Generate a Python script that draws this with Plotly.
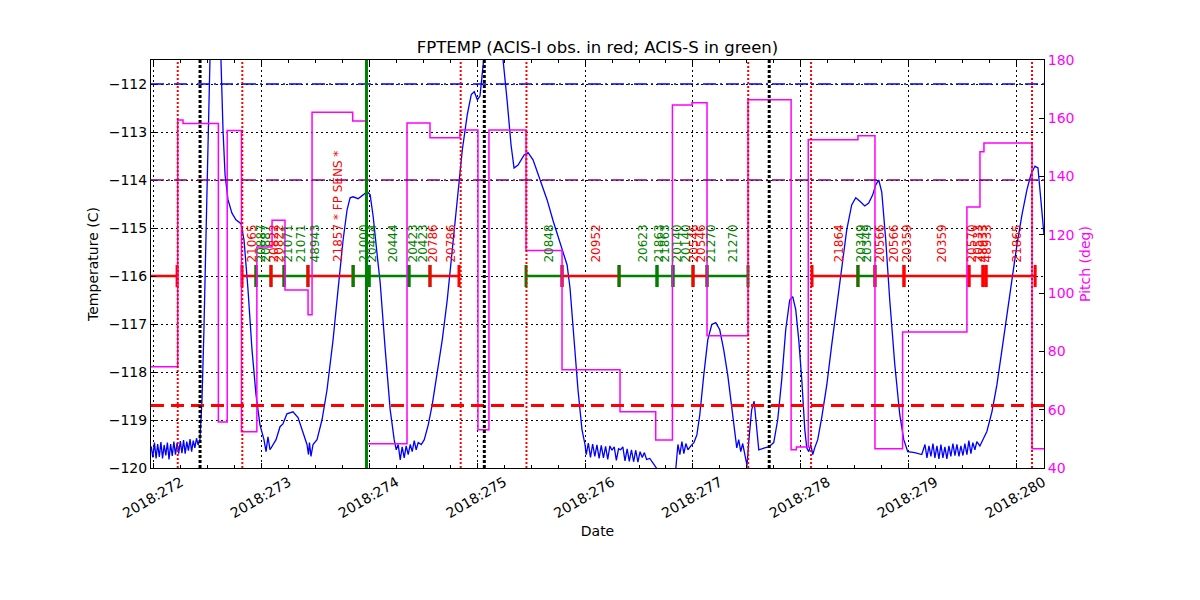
import plotly.graph_objects as go

# ---------------- data (times in fractional day-of-year 2018) ----------------
temp_time = [
    271.975, 271.990, 272.005, 272.020, 272.035, 272.050, 272.065, 272.080, 272.095, 272.110,
    272.125, 272.140, 272.155, 272.170, 272.185, 272.200, 272.215, 272.230, 272.245, 272.260,
    272.275, 272.290, 272.305, 272.320, 272.335, 272.350, 272.365, 272.380, 272.395, 272.410,
    272.427, 272.446, 272.464, 272.483, 272.501, 272.520, 272.567, 272.613, 272.622, 272.641,
    272.660, 272.687, 272.724, 272.761, 272.808, 272.836, 272.873, 272.910, 272.947, 272.984,
    273.021, 273.040, 273.058, 273.077, 273.095, 273.133, 273.170, 273.197, 273.234, 273.290,
    273.337, 273.383, 273.420, 273.434, 273.443, 273.457, 273.476, 273.513, 273.560, 273.606,
    273.662, 273.708, 273.755, 273.792, 273.820, 273.848, 273.894, 273.941, 273.978, 274.006,
    274.034, 274.071, 274.099, 274.146, 274.192, 274.229, 274.248, 274.266, 274.285, 274.303,
    274.322, 274.340, 274.359, 274.378, 274.396, 274.415, 274.433, 274.452, 274.480, 274.508,
    274.545, 274.582, 274.628, 274.675, 274.721, 274.768, 274.814, 274.861, 274.907, 274.944,
    274.972, 275.000, 275.025, 275.053, 275.090, 275.183, 275.239, 275.276, 275.313, 275.341,
    275.378, 275.434, 275.471, 275.517, 275.582, 275.647, 275.703, 275.777, 275.833, 275.860,
    275.897, 275.934, 275.971, 275.999,
    276.01, 276.03, 276.05, 276.07, 276.09, 276.11, 276.13, 276.15, 276.17, 276.19,
    276.21, 276.23, 276.25, 276.27, 276.29, 276.31, 276.33, 276.35, 276.37, 276.39,
    276.41, 276.43, 276.45, 276.47, 276.49, 276.51, 276.53, 276.55, 276.57,
    276.60, 276.64, 276.68, 276.72, 276.78, 276.84,
    276.861, 276.879, 276.898, 276.916, 276.935, 276.954, 276.981, 277.009, 277.037, 277.064,
    277.101, 277.138, 277.175, 277.212, 277.249, 277.286, 277.323, 277.360, 277.388, 277.407,
    277.425, 277.444, 277.462, 277.481, 277.502, 277.518, 277.545, 277.568, 277.592, 277.611,
    277.666, 277.703, 277.750, 277.787, 277.824, 277.861, 277.898, 277.926, 277.954, 277.982,
    278.010, 278.038, 278.056, 278.075, 278.093, 278.112, 278.130, 278.158, 278.195, 278.242,
    278.288, 278.334, 278.381, 278.427, 278.473, 278.511, 278.557, 278.594, 278.631, 278.668,
    278.696, 278.724, 278.752, 278.789, 278.826, 278.873, 278.919, 278.956, 278.993, 279.058,
    279.123,
    279.153, 279.171, 279.190, 279.208, 279.227, 279.245, 279.264, 279.282, 279.301, 279.319,
    279.338, 279.356, 279.375, 279.393, 279.412, 279.431, 279.449, 279.468, 279.486, 279.505,
    279.523, 279.542, 279.560, 279.579, 279.597, 279.616, 279.634,
    279.662, 279.690, 279.727, 279.774, 279.820, 279.867, 279.913, 279.959, 280.006, 280.052,
    280.098, 280.135, 280.173, 280.201, 280.229, 280.257,
]
temp_value = [
    -119.55, -119.78, -119.47, -119.80, -119.50, -119.77, -119.46, -119.80, -119.52, -119.74,
    -119.47, -119.82, -119.50, -119.75, -119.45, -119.72, -119.48, -119.70, -119.44, -119.69,
    -119.42, -119.70, -119.45, -119.64, -119.40, -119.66, -119.43, -119.58, -119.38, -119.52,
    -119.41, -118.58, -117.12, -115.45, -113.37, -111.50, -110.40, -111.20, -111.50, -112.96,
    -113.89, -114.41, -114.69, -114.83, -114.91, -115.25, -116.29, -117.54, -118.47, -119.10,
    -119.41, -119.66, -119.35, -119.62, -119.56, -119.41, -119.14, -119.08, -118.87, -118.83,
    -118.95, -119.24, -119.51, -119.72, -119.47, -119.76, -119.51, -119.41, -118.99, -118.37,
    -117.33, -116.29, -115.25, -114.62, -114.37, -114.35, -114.39, -114.31, -114.24, -114.31,
    -114.76, -115.56, -116.14, -117.54, -118.79, -119.41, -119.62, -119.51, -119.83, -119.56,
    -119.79, -119.54, -119.72, -119.51, -119.66, -119.43, -119.62, -119.47, -119.51, -119.41,
    -119.10, -118.68, -118.06, -117.33, -116.50, -115.46, -114.41, -113.37, -112.64, -112.22,
    -112.16, -112.33, -112.25, -111.50, -110.80, -110.80, -111.50, -112.33, -113.27, -113.75,
    -113.69, -113.48, -113.43, -113.58, -114.00, -114.41, -114.85, -115.35, -115.77, -116.25,
    -117.33, -118.37, -119.20, -119.51,
    -119.72, -119.48, -119.78, -119.50, -119.76, -119.52, -119.80, -119.53, -119.79, -119.55,
    -119.82, -119.54, -119.63, -119.56, -119.84, -119.60, -119.62, -119.56, -119.85, -119.60,
    -119.86, -119.62, -119.87, -119.63, -119.88, -119.66, -119.78, -119.68, -119.82,
    -119.80, -119.93, -120.05, -120.20, -120.50, -120.05,
    -119.51, -119.72, -119.45, -119.70, -119.49, -119.62, -119.54, -119.47, -119.31, -118.89,
    -118.06, -117.33, -117.01, -116.97, -117.12, -117.54, -118.06, -118.79, -119.31, -119.58,
    -119.41, -119.66, -119.49, -119.72, -119.95, -119.45, -118.79, -118.61, -119.20, -119.62,
    -119.58, -119.56, -119.47, -118.99, -118.16, -117.12, -116.50, -116.43, -116.70, -117.33,
    -118.16, -119.20, -119.58, -119.66, -119.51, -119.72, -119.58, -119.41, -118.95, -118.27,
    -117.43, -116.60, -115.77, -115.04, -114.52, -114.37, -114.46, -114.54, -114.48, -114.31,
    -114.10, -114.00, -114.25, -115.25, -116.50, -117.85, -118.89, -119.41, -119.66, -119.68,
    -119.72,
    -119.51, -119.79, -119.54, -119.76, -119.49, -119.79, -119.54, -119.81, -119.51, -119.79,
    -119.56, -119.81, -119.54, -119.76, -119.49, -119.74, -119.51, -119.76, -119.54, -119.74,
    -119.49, -119.72, -119.43, -119.70, -119.47, -119.62, -119.45,
    -119.54, -119.41, -119.24, -118.83, -118.27, -117.54, -116.81, -116.08, -115.35, -114.73,
    -114.21, -113.89, -113.71, -113.75, -114.41, -115.14,
]

pitch_time = [271.95, 272.221, 272.270, 272.598, 272.680, 272.812, 272.955, 273.096, 273.216,
              273.430, 273.467, 273.844, 273.972, 274.348, 274.561, 274.839, 275.006, 275.108,
              275.452, 275.786, 276.324, 276.655, 276.810, 276.992, 277.131, 277.511, 277.911,
              277.960, 278.070, 278.531, 278.689, 278.945, 279.542, 279.663, 279.700, 280.146,
              280.30]
pitch_value = [74.7, 159.4, 158.2, 55.8, 155.8, 52.4, 115.8, 125.0, 101.1,
               92.6, 162.1, 159.1, 48.3, 158.4, 153.3, 156.0, 53.1, 156.0,
               114.6, 73.7, 59.3, 49.6, 164.6, 165.3, 85.4, 166.4, 46.3,
               47.2, 152.6, 154.0, 46.6, 86.7, 129.6, 148.5, 151.5, 46.6,
               46.6]

obs_start = [271.90, 272.817, 272.947, 273.086, 273.207, 273.429, 273.848, 273.996, 274.366,
             274.561, 275.452, 275.786, 276.315, 276.667, 276.815, 277.001, 277.131, 278.105,
             278.531, 278.689, 278.958, 279.561, 279.691, 279.719]
obs_stop = [272.215, 272.947, 273.086, 273.207, 273.429, 273.848, 273.996, 274.366, 274.561,
            274.830, 275.786, 276.315, 276.667, 276.815, 277.001, 277.131, 277.511, 278.531,
            278.689, 278.958, 279.561, 279.691, 279.719, 280.175]
obs_inst = ['I', 'I', 'S', 'I', 'S', 'I', 'S', 'S', 'S',
            'I', 'S', 'I', 'S', 'S', 'S', 'I', 'S', 'I',
            'S', 'I', 'I', 'I', 'I', 'I']

label_time = [272.910, 272.993, 273.031, 273.114, 273.160, 273.244, 273.364, 273.494, 273.708,
              273.940, 274.014, 274.218, 274.403, 274.496, 274.589, 274.747, 275.656, 276.101,
              276.528, 276.685, 276.741, 276.852, 276.936, 277.010, 277.075, 277.168, 277.372,
              278.355, 278.559, 278.615, 278.735, 278.865, 278.986, 279.310, 279.580, 279.644,
              279.691, 279.728, 280.006]
label_text = ['21065', '20887', '20887', '20822', '20822', '21071', '21071', '48943',
              '21857 * FP SENS *',
              '21000', '20444', '20444', '20423', '20423', '20786', '20786', '20848', '20952',
              '20623', '21863', '21863', '20140', '20140', '20546', '20546', '21270', '21270',
              '21864', '20349', '20349', '20566', '20566', '20359', '20359', '20570', '20533',
              '48933', '48933', '21865']
label_inst = ['I', 'S', 'S', 'I', 'I', 'S', 'S', 'S', 'I',
              'S', 'S', 'S', 'S', 'S', 'I', 'I', 'S', 'I',
              'S', 'S', 'S', 'S', 'S', 'I', 'I', 'S', 'S',
              'I', 'S', 'S', 'I', 'I', 'I', 'I', 'I', 'I',
              'I', 'I', 'I']

radzone_times = [272.221, 272.820, 274.846, 275.456, 277.513, 278.096, 280.146]
perigee_times = [272.428, 275.065, 277.708]
now_time = 273.972

planning_limit = -112.0
acis_s_limit = -114.0
acis_i_limit = -118.7
obs_level = -116.0

day_ticks = [272, 273, 274, 275, 276, 277, 278, 279, 280]
day_labels = ['2018:272', '2018:273', '2018:274', '2018:275', '2018:276',
              '2018:277', '2018:278', '2018:279', '2018:280']

# ---------------- styling ----------------
FONT = 'DejaVu Sans'
RED = '#ff0000'
GREEN = '#008000'
inst_color = {'I': RED, 'S': GREEN}
tick_half = 0.23
label_offset = 0.26

fig = go.Figure()

# temperature model
fig.add_trace(go.Scatter(x=temp_time, y=temp_value, mode='lines',
                         line=dict(color='#0000ff', width=1.3), yaxis='y', hoverinfo='skip'))

# observation bars
for inst in ['I', 'S']:
    xs, ys = [], []
    for s, e, i in zip(obs_start, obs_stop, obs_inst):
        if i == inst:
            xs += [s, e, None]
            ys += [obs_level, obs_level, None]
    fig.add_trace(go.Scatter(x=xs, y=ys, mode='lines',
                             line=dict(color=inst_color[inst], width=2.5), yaxis='y'))

# tick marks at obs ends (first) and starts (on top)
for which in ['stop', 'start']:
    for inst in ['I', 'S']:
        xs, ys = [], []
        src = obs_stop if which == 'stop' else obs_start
        for t, i in zip(src, obs_inst):
            if i == inst:
                xs += [t, t, None]
                ys += [obs_level - tick_half, obs_level + tick_half, None]
        fig.add_trace(go.Scatter(x=xs, y=ys, mode='lines',
                                 line=dict(color=inst_color[inst], width=3), yaxis='y'))

# pitch
fig.add_trace(go.Scatter(x=pitch_time, y=pitch_value, mode='lines',
                         line=dict(color='#ff00ff', width=1.5, shape='hv'), yaxis='y2'))

shapes = []
for yv, col, dash, w in [(planning_limit, '#0000ff', '13px,4px,2px,4px', 1.5),
                         (acis_s_limit, '#800080', '13px,4px,2px,4px', 1.5),
                         (acis_i_limit, RED, '13px,7px', 3)]:
    shapes.append(dict(type='line', xref='paper', x0=0, x1=1, yref='y', y0=yv, y1=yv,
                       line=dict(color=col, width=w, dash=dash)))
for t in radzone_times:
    shapes.append(dict(type='line', xref='x', x0=t, x1=t, yref='paper', y0=0, y1=1,
                       line=dict(color=RED, width=2, dash='2px,2px')))
for t in perigee_times:
    shapes.append(dict(type='line', xref='x', x0=t, x1=t, yref='paper', y0=0, y1=1,
                       line=dict(color='black', width=3, dash='3px,2px')))
shapes.append(dict(type='line', xref='x', x0=now_time, x1=now_time, yref='paper', y0=0, y1=1,
                   line=dict(color=GREEN, width=3)))

annotations = []
for t, txt, i in zip(label_time, label_text, label_inst):
    annotations.append(dict(x=t, y=obs_level + label_offset, xref='x', yref='y', text=txt,
                            textangle=-90, xanchor='center', yanchor='bottom', showarrow=False,
                            font=dict(family=FONT, size=12, color=inst_color[i]), borderpad=0))

fig.update_layout(
    width=1200, height=600,
    margin=dict(l=143, r=164, t=52, b=140),
    paper_bgcolor='white', plot_bgcolor='white',
    showlegend=False,
    font=dict(family=FONT, size=14, color='black'),
    title=dict(text='FPTEMP (ACIS-I obs. in red; ACIS-S in green)', x=0.4913, xanchor='center',
               y=1 - 39 / 600, yanchor='middle', font=dict(family=FONT, size=16.5, color='black')),
    shapes=shapes,
    annotations=annotations,
    xaxis=dict(range=[271.973, 280.257], tickmode='array', tickvals=day_ticks, ticktext=day_labels,
               tickangle=-30, ticklabelshift=27, ticks='inside', ticklen=5, tickcolor='black',
               showline=True,
               linecolor='black', linewidth=1, mirror='ticks', showgrid=True, gridcolor='black',
               gridwidth=0.8, griddash='2px,3px', zeroline=False,
               minor=dict(tickmode='linear', tick0=272, dtick=0.25, ticks='inside', ticklen=3,
                          tickcolor='black', showgrid=False),
               title=dict(text='Date', standoff=6, font=dict(size=14)), tickfont=dict(size=14)),
    yaxis=dict(range=[-120, -111.5], dtick=1, ticks='inside', ticklen=5, tickcolor='black',
               showline=True, linecolor='black', linewidth=1, showgrid=True, gridcolor='black',
               gridwidth=0.8, griddash='2px,3px', zeroline=False,
               title=dict(text='Temperature (C)', standoff=6, font=dict(size=14)),
               tickfont=dict(size=14)),
    yaxis2=dict(range=[40, 180], dtick=20, overlaying='y', side='right', ticks='inside', ticklen=5,
                tickcolor='black', showline=True, linecolor='black', linewidth=1, showgrid=False,
                zeroline=False, tickfont=dict(size=14, color='#ff00ff'),
                title=dict(text='Pitch (deg)', standoff=6, font=dict(color='#ff00ff', size=14))),
)

fig.write_html('out.html')
